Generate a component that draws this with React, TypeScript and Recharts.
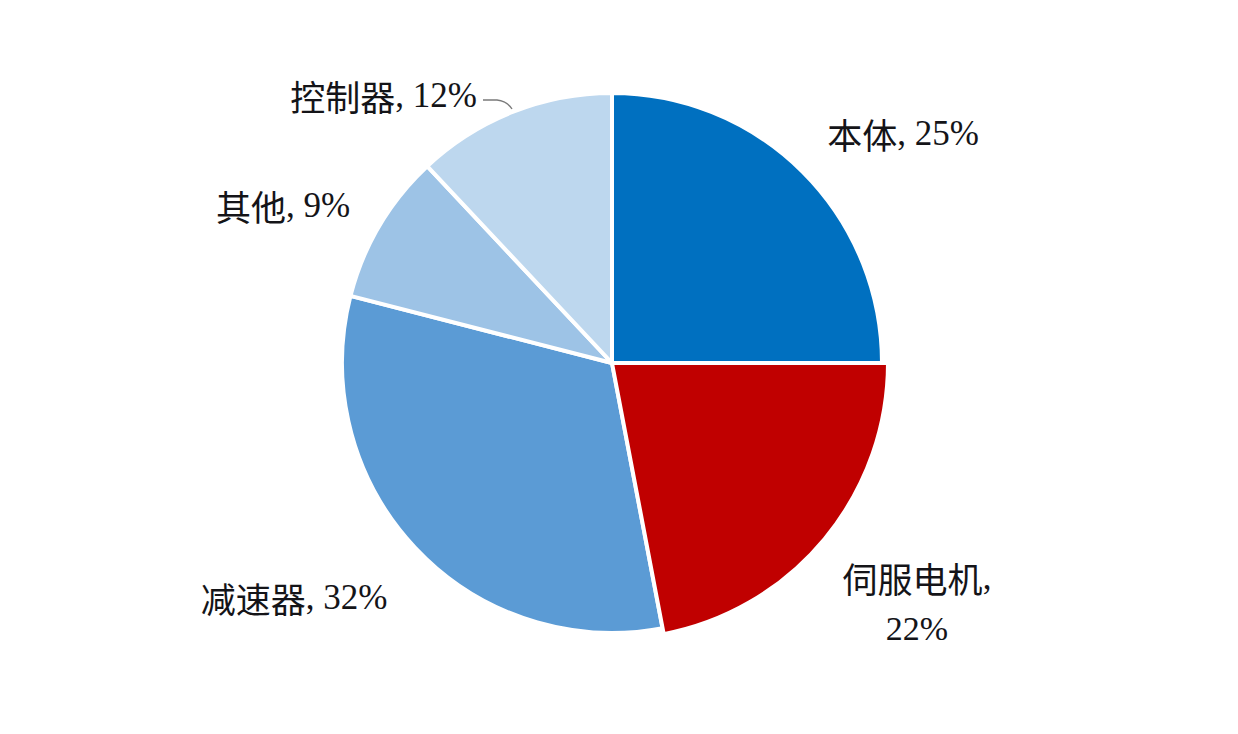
import { PieChart, Pie, Cell } from 'recharts'

const categories = ['本体', '伺服电机', '减速器', '其他', '控制器']
const shares = [25, 22, 32, 9, 12]
const colors = ['#0070C0', '#C00000', '#5B9BD5', '#9DC3E6', '#BDD7EE']

const data = categories.map((name, i) => ({ name, value: shares[i] }))

// label placement relative to the pie centre (styling only)
const labelOffsets = [
  { dx: 291, dy: -230, anchor: 'middle' },
  { dx: 305, dy: 214, anchor: 'middle' },
  { dx: -318, dy: 234, anchor: 'middle' },
  { dx: -329, dy: -158, anchor: 'middle' },
  { dx: -135, dy: -268, anchor: 'end' },
]

const CJK = '"Noto Sans CJK SC", "Noto Sans", sans-serif'
const SERIF = '"Liberation Serif", "DejaVu Serif", serif'
const TEXT = '#141418'

// eslint-disable-next-line @typescript-eslint/no-explicit-any
function renderLabel(props: any) {
  const { cx, cy, index } = props
  const o = labelOffsets[index]
  const x = cx + o.dx
  const y = cy + o.dy
  const name = categories[index]
  const pct = `${shares[index]}%`

  if (index === 1) {
    return (
      <g>
        <text x={x} y={y} textAnchor="middle" dominantBaseline="central" fill={TEXT} fontSize={35}>
          <tspan fontFamily={CJK}>{name}</tspan>
          <tspan fontFamily={SERIF}>,</tspan>
        </text>
        <text x={x} y={y + 51} textAnchor="middle" dominantBaseline="central" fill={TEXT} fontSize={34} fontFamily={SERIF}>
          {pct}
        </text>
      </g>
    )
  }

  return (
    <g>
      <text x={x} y={y} textAnchor={o.anchor} dominantBaseline="central" fill={TEXT} fontSize={35}>
        <tspan fontFamily={CJK}>{name}</tspan>
        <tspan fontFamily={SERIF} fontSize={35}>, {pct}</tspan>
      </text>
      {index === 4 && (
        <path
          d={`M ${x + 6} ${y + 5} L ${x + 20} ${y + 5} Q ${x + 30} ${y + 6} ${x + 35} ${y + 14}`}
          stroke="#7a7a7a"
          strokeWidth={1.4}
          fill="none"
        />
      )}
    </g>
  )
}

export default function App() {
  return (
    <div style={{ width: 1230, height: 726, background: '#ffffff' }}>
      <PieChart width={1230} height={726} margin={{ top: 0, right: 0, bottom: 0, left: 0 }}>
        <Pie
          data={data}
          dataKey="value"
          nameKey="name"
          cx={604}
          cy={355}
          outerRadius={270}
          startAngle={90}
          endAngle={-270}
          stroke="#ffffff"
          strokeWidth={4}
          label={renderLabel}
          labelLine={false}
          isAnimationActive={false}
        >
          {data.map((d, i) => (
            <Cell key={d.name} fill={colors[i]} />
          ))}
        </Pie>
        {/* servo motor slice drawn slightly larger, as in the source */}
        <Pie
          data={data}
          dataKey="value"
          nameKey="name"
          cx={604}
          cy={355}
          outerRadius={276}
          startAngle={90}
          endAngle={-270}
          strokeWidth={4}
          isAnimationActive={false}
        >
          {data.map((d, i) => (
            <Cell key={d.name} fill={i === 1 ? colors[i] : 'none'} stroke={i === 1 ? '#ffffff' : 'none'} />
          ))}
        </Pie>
      </PieChart>
    </div>
  )
}
